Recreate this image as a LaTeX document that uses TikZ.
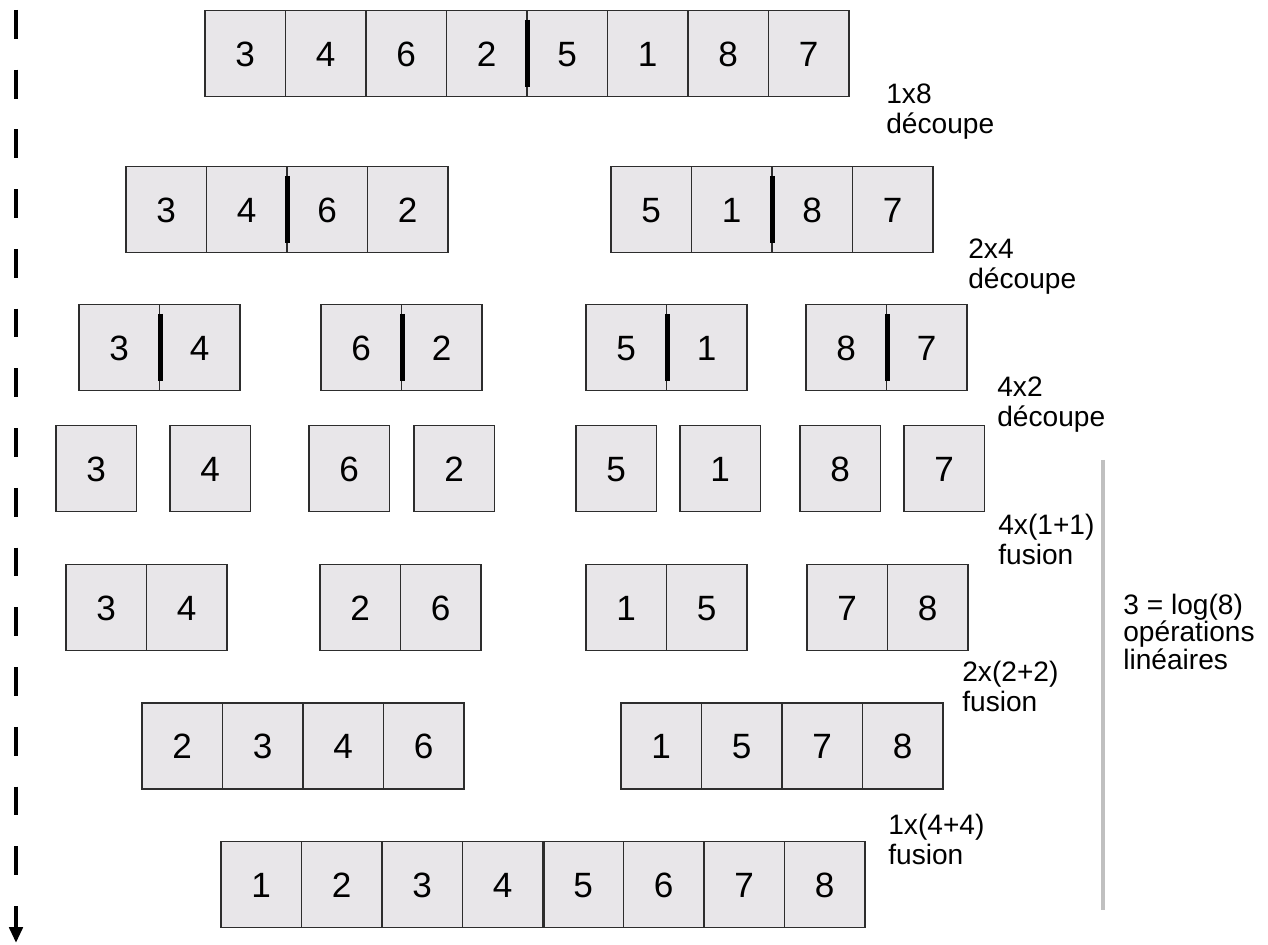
\documentclass[tikz,border=0pt]{standalone}
\usepackage{fontspec}
\setmainfont{Liberation Sans}
\usepackage{xcolor}
\usepackage{tikz}
\usetikzlibrary{arrows.meta, positioning, calc}
\definecolor{cellgray}{RGB}{232,230,233}
\definecolor{edgegray}{RGB}{45,45,45}
\definecolor{bargray}{RGB}{192,192,192}

\tikzset{
  cell/.style={draw=edgegray, fill=cellgray, line width=0.8pt, minimum width=1.61cm,
    minimum height=1.72cm, inner sep=0pt, text height=14.3pt, text depth=0pt,
    font=\fontsize{20}{24}\selectfont},
  split/.style={line width=2.8pt, black},
  steplabel/.style={anchor=north west, align=left, inner sep=0pt,
    font=\fontsize{16}{17}\selectfont},
}

% one block of cells: name, left edge, vertical centre, values
\newcommand{\cellrow}[4]{%
  \foreach \v [count=\i] in {#4}
    \node[cell] (#1-\i) at ({#2+80.5*\i-40.25}, #3) {\v};
}

\begin{document}
\begin{tikzpicture}[x=0.02cm, y=-0.02cm, >=Stealth]
        \useasboundingbox (0,0) rectangle (1268,945);
        % Time axis
        \coordinate (t0) at (16,10);
        \coordinate (t1) at (16,943);
        \draw [line width=2.6pt, dash pattern=on 16.4pt off 17.6pt,
               -{Triangle[length=9pt, width=7.5pt]}] (t0) -- (t1);
        % Splitting
        \cellrow{ra}{205}{53.5}{3,4,6,2,5,1,8,7}
        \cellrow{rba}{126}{209.5}{3,4,6,2}
        \cellrow{rbb}{611}{209.5}{5,1,8,7}
        \cellrow{rca}{79}{347.5}{3,4}
        \cellrow{rcb}{321}{347.5}{6,2}
        \cellrow{rcc}{586}{347.5}{5,1}
        \cellrow{rcd}{806}{347.5}{8,7}
        \foreach \n/\x/\d in {a/56/3, b/170/4, c/309/6, d/414/2, e/576/5, f/680/1, g/800/8, h/904/7}
          \node[cell] (rd\n) at (\x+40.25, 468.5) {\d};
        % Merging
        \cellrow{rea}{66}{607.5}{3,4}
        \cellrow{reb}{320}{607.5}{2,6}
        \cellrow{rec}{586}{607.5}{1,5}
        \cellrow{red}{807}{607.5}{7,8}
        \cellrow{rfa}{142}{746}{2,3,4,6}
        \cellrow{rfb}{621}{746}{1,5,7,8}
        \cellrow{rg}{221}{884.5}{1,2,3,4,5,6,7,8}
        % Cut marks
        \foreach \c in {ra-4, rba-2, rbb-2, rca-1, rcb-1, rcc-1, rcd-1}
          \draw [split] ([yshift=-0.2cm]\c.north east) -- ([yshift=0.2cm]\c.south east);
        \draw [line width=1.4pt, edgegray] (rg-4.north east) -- (rg-4.south east);
        % Step labels
        \node [steplabel] (la) at (886,84) {1x8\\découpe};
        \node [steplabel] (lb) at (968,239) {2x4\\découpe};
        \node [steplabel] (lc) at (997,377) {4x2\\découpe};
        \node [steplabel] (ld) at (998,514) {4x(1+1)\\fusion};
        \node [steplabel] (le) at (962,661) {2x(2+2)\\fusion};
        \node [steplabel] (lf) at (888,814) {1x(4+4)\\fusion};
        % Cost of the merges
        \coordinate (g0) at (1103,460);
        \coordinate (g1) at (1103,910);
        \draw [line width=2.8pt, bargray] (g0) -- (g1);
        \node [steplabel, font=\fontsize{16}{15.5}\selectfont] (cost) at (1123,594)
          {3 = log(8)\\opérations\\linéaires};
    \end{tikzpicture}
\end{document}
